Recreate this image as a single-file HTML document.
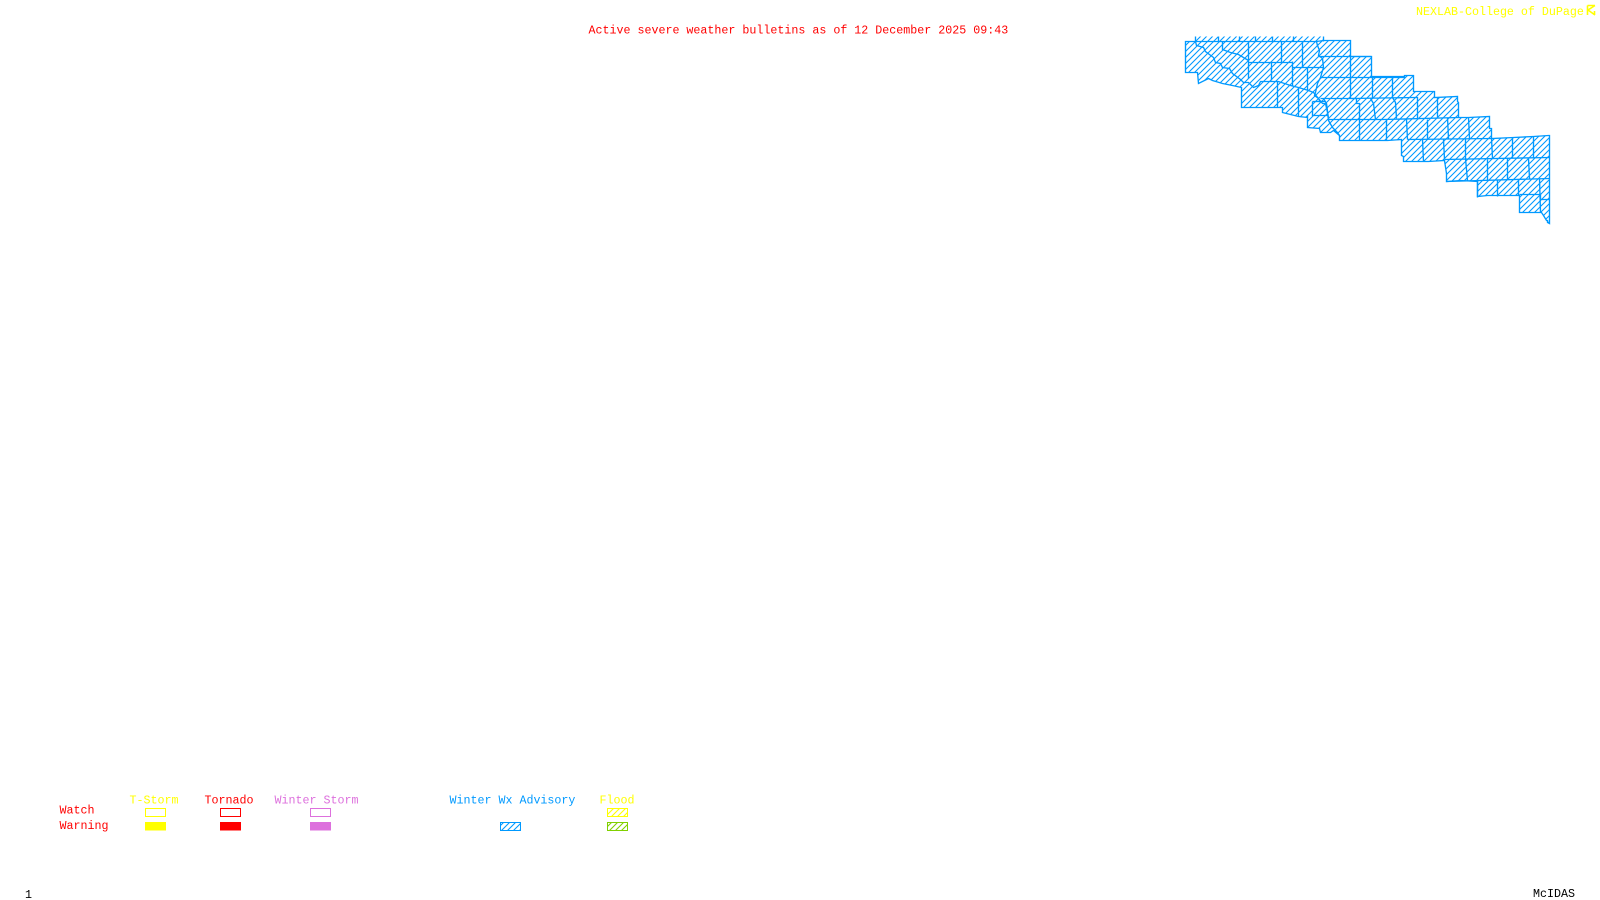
<!DOCTYPE html>
<html>
<head>
<meta charset="utf-8">
<style>
html,body{margin:0;padding:0;background:#fff;width:1600px;height:900px;overflow:hidden}
svg{display:block}
text{font-family:"Liberation Mono",monospace;font-size:11.67px;white-space:pre}
</style>
</head>
<body>
<svg width="1600" height="900" viewBox="0 0 1600 900" xmlns="http://www.w3.org/2000/svg">
<defs>
<pattern id="hb" width="6" height="6" patternUnits="userSpaceOnUse"><path d="M-1,7L7,-1M-1,1L1,-1M5,7L7,5" stroke="#0099ff" stroke-width="1.1" fill="none"/></pattern>
<pattern id="hy" width="6" height="6" patternUnits="userSpaceOnUse"><path d="M-1,7L7,-1M-1,1L1,-1M5,7L7,5" stroke="#ffff00" stroke-width="1.1" fill="none"/></pattern>
<pattern id="hg" width="6" height="6" patternUnits="userSpaceOnUse"><path d="M-1,7L7,-1M-1,1L1,-1M5,7L7,5" stroke="#80d000" stroke-width="1.1" fill="none"/></pattern>
</defs>

<text x="588.5" y="33.5" fill="#ff0000">Active severe weather bulletins as of 12 December 2025 09:43</text>
<text x="1416" y="15" fill="#ffff00">NEXLAB-College of DuPage</text>
<g stroke="#ffff00" stroke-width="1.6" fill="none">
<path d="M1587.5,5.5V15M1587.5,5.5H1595M1588,10L1595,5.5M1588,10L1595,15M1594.5,11V15"/>
</g>

<g transform="translate(.5,.5)" stroke-width="1.35" stroke-linejoin="miter">
<path d="M1195,36H1323V41H1195Z" fill="url(#hb)" stroke="none"/>
<path d="M1195,36V41M1218,36V41M1239,36V41M1255,36V41M1272,36V41M1293,36V41M1323,36V41" stroke="#0099ff" fill="none"/>
<path fill="url(#hb)" stroke="#0099ff" d="M1185,41H1316L1323,40H1350V56H1371V76H1404V75H1413V91H1434V97L1457,96V101L1458,102V117H1468L1489,116V128H1491V138L1513,137L1533,136L1548,135H1549V223L1547,222V220H1546L1543,215L1541,212H1519V195H1487L1477,196V181L1460,180L1446,181V173L1444,160L1428,161L1403,161V156L1401,155V139L1387,140H1339V135L1333,130L1330,132H1320L1319,128L1307,127V117L1298,116L1282,112V107H1241V87L1232,85L1222,83L1212,80L1208,78L1198,83L1197,72H1185Z"/>
<g fill="none" stroke="#0099ff">
<path d="M1195,41L1196,45L1203,47L1205,51L1213,57L1215,62L1220,63L1222,67L1229,68L1232,73L1240,79L1243,82H1248L1253,87L1258,85L1260,81H1278L1290,85L1298,87L1308,90L1313,92L1318,98L1322,103H1325L1327,112L1328,120L1332,127L1337,132L1339,135"/>
<path d="M1222,41V49L1230,52L1238,54L1248,60"/>
<path d="M1248,41V78"/>
<path d="M1248,62H1292"/>
<path d="M1271,62V80"/>
<path d="M1281,41V62"/>
<path d="M1292,61V86"/>
<path d="M1302,41V66L1303,67"/>
<path d="M1292,67H1323"/>
<path d="M1307,67L1307,90"/>
<path d="M1277,81V107"/>
<path d="M1298,87V116"/>
<path d="M1316,41L1317,45L1319,50L1318,55L1322,58L1323,67L1320,77L1317,83L1315,92L1314,95L1318,98L1320,102"/>
<path d="M1318,56H1371"/>
<path d="M1350,56V98"/>
<path d="M1320,77H1405"/>
<path d="M1320,98H1356V103H1359V140"/>
<path d="M1323,98L1326,103L1328,118"/>
<path d="M1312,101H1325"/>
<path d="M1312,101V115H1327"/>
<path d="M1307,115V117"/>
<path d="M1328,119L1383,119L1458,117"/>
<path d="M1372,76V98"/>
<path d="M1392,77V97"/>
<path d="M1351,98L1413,97H1417V118"/>
<path d="M1370,98L1373,103L1375,119"/>
<path d="M1392,97L1395,102L1396,118"/>
<path d="M1437,97V117"/>
<path d="M1386,119V140"/>
<path d="M1406,119L1407,139"/>
<path d="M1427,119V138"/>
<path d="M1447,117L1448,138"/>
<path d="M1468,117L1469,138"/>
<path d="M1407,139L1491,138"/>
<path d="M1422,139L1423,161"/>
<path d="M1443,139L1444,159"/>
<path d="M1465,138V158L1467,180"/>
<path d="M1491,138L1492,158"/>
<path d="M1512,137V158"/>
<path d="M1533,136V158"/>
<path d="M1444,159L1549,157"/>
<path d="M1487,159V180"/>
<path d="M1507,158V179"/>
<path d="M1528,158L1529,178"/>
<path d="M1446,181L1549,178"/>
<path d="M1477,180V197"/>
<path d="M1497,180V196"/>
<path d="M1518,179V195"/>
<path d="M1519,194H1540V199H1549"/>
<path d="M1539,178L1540,212"/>
</g>
</g>

<text x="129.5" y="803.5" fill="#ffff00">T-Storm</text>
<text x="204.5" y="803.5" fill="#ff0000">Tornado</text>
<text x="274.5" y="803.5" fill="#dd70dd">Winter Storm</text>
<text x="449.5" y="803.5" fill="#0099ff">Winter Wx Advisory</text>
<text x="599.5" y="803.5" fill="#ffff00">Flood</text>
<text x="59.5" y="813.5" fill="#ff0000">Watch</text>
<text x="59.5" y="829" fill="#ff0000">Warning</text>

<g stroke-width="1" shape-rendering="crispEdges">
<rect x="145.5" y="808.5" width="20" height="8" fill="none" stroke="#ffff00"/>
<rect x="220.5" y="808.5" width="20" height="8" fill="none" stroke="#ff0000"/>
<rect x="310.5" y="808.5" width="20" height="8" fill="none" stroke="#dd70dd"/>
<rect x="145" y="822" width="21" height="8.5" fill="#ffff00"/>
<rect x="220" y="822" width="21" height="8.5" fill="#ff0000"/>
<rect x="310" y="822" width="21" height="8.5" fill="#dd70dd"/>
<rect x="500.5" y="822.5" width="20" height="8" fill="url(#hb)" stroke="#0099ff"/>
<rect x="607.5" y="808.5" width="20" height="8" fill="url(#hy)" stroke="#ffff00"/>
<rect x="607.5" y="822.5" width="20" height="8" fill="url(#hg)" stroke="#80d000"/>
</g>

<text x="25" y="898" fill="#000000">1</text>
<text x="1533" y="897" fill="#000000">McIDAS</text>
</svg>
</body>
</html>
